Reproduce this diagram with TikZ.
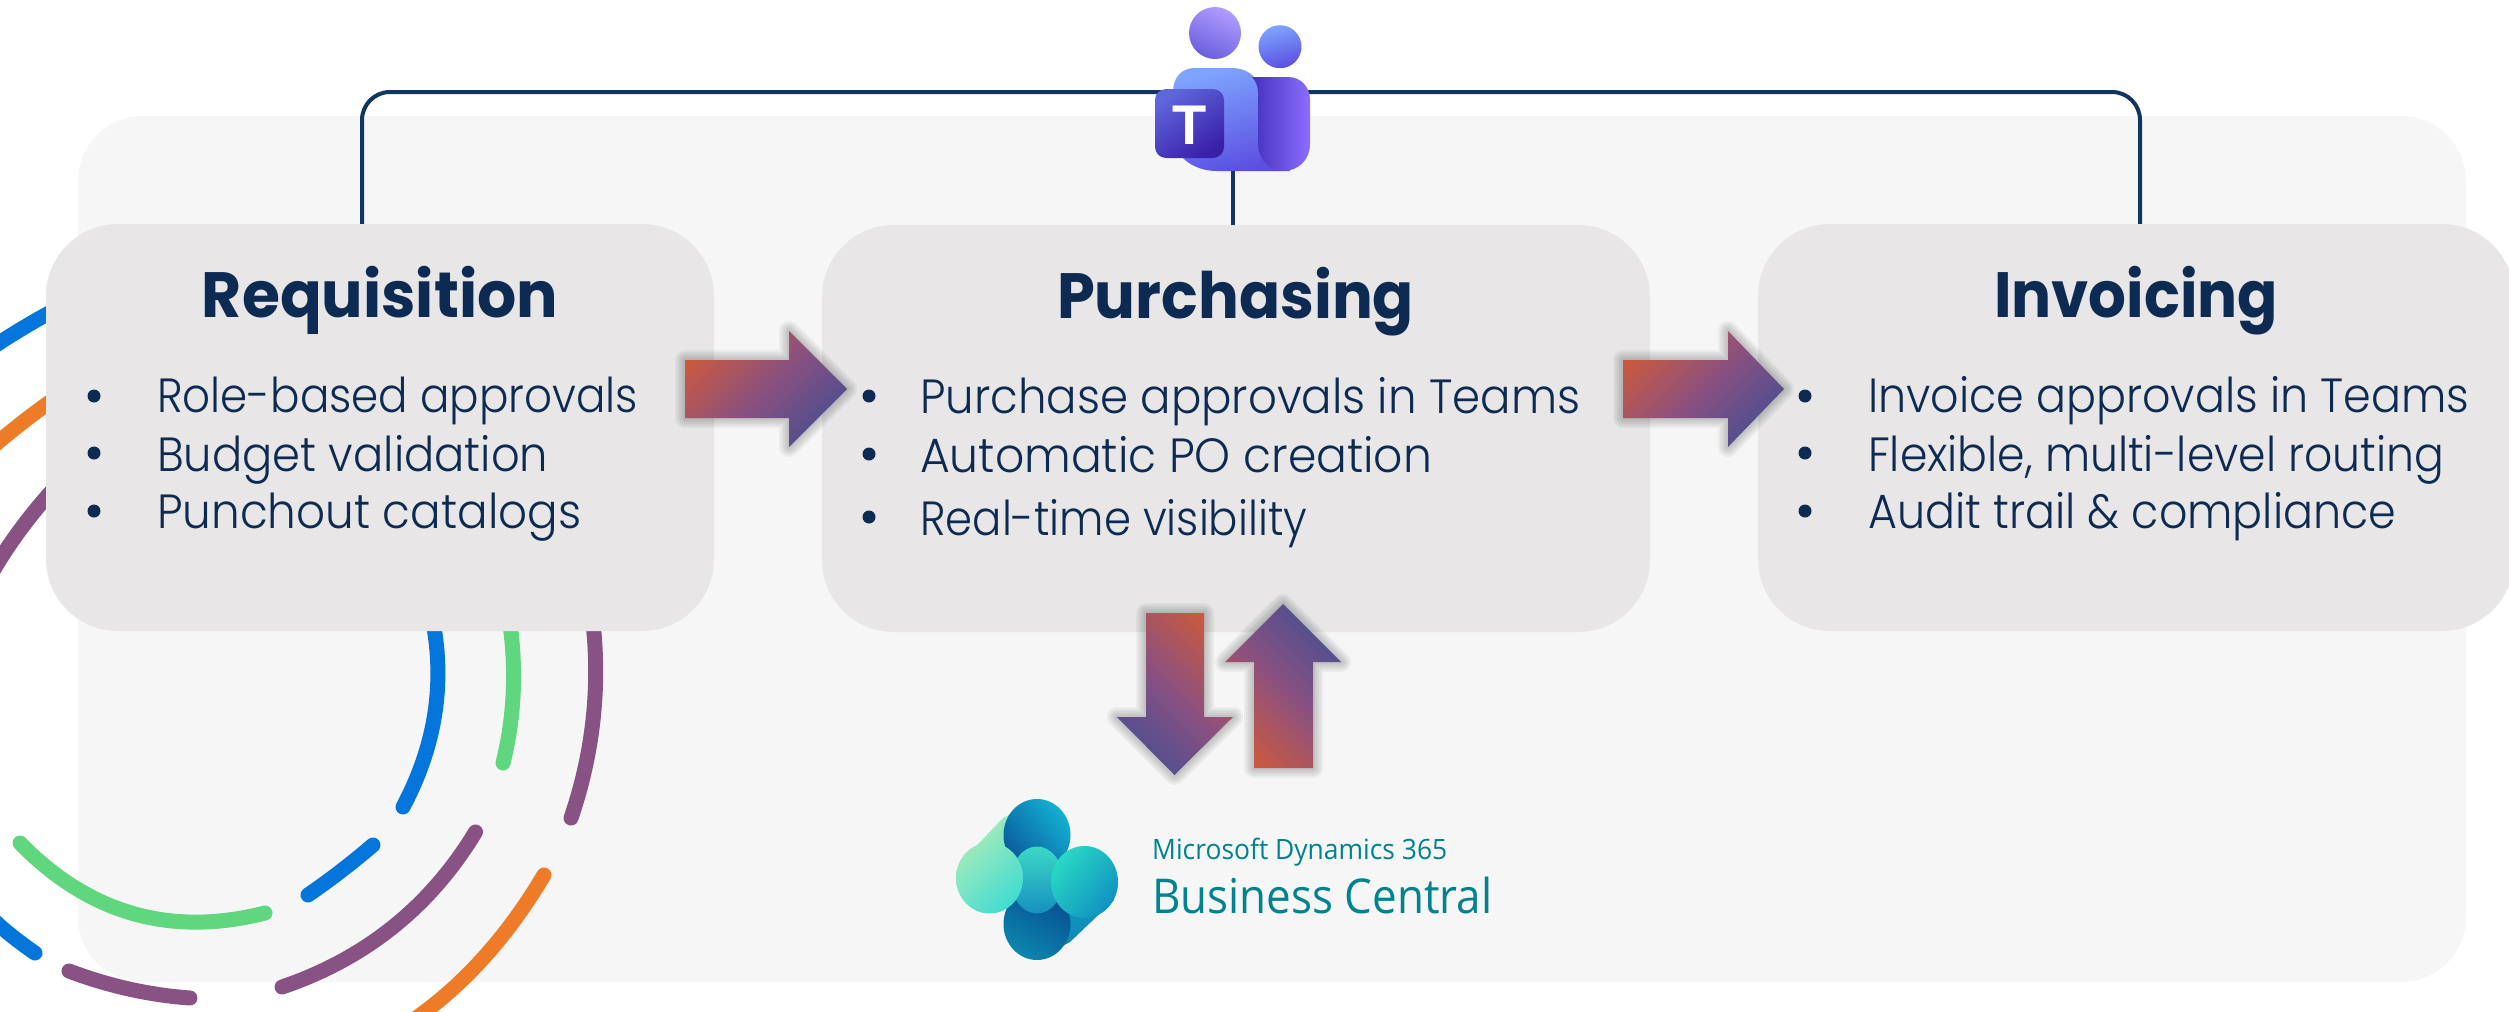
\documentclass[tikz,border=0pt]{standalone}
\usepackage{fontspec}
\usepackage{graphicx}
\usetikzlibrary{calc}
\setmainfont{Poppins}
\newfontfamily\titlefont{Poppins Bold}
\newfontfamily\bodyfont{Poppins Light}
\newfontfamily\msfont{Open Sans}
\newfontfamily\tfont{Liberation Sans Bold}
\definecolor{navy}{HTML}{0D2B52}
\definecolor{conn}{HTML}{0F3560}
\definecolor{cardgray}{HTML}{E8E6E7}
\definecolor{bggray}{HTML}{F6F6F7}
\definecolor{ringblue}{HTML}{0476DB}
\definecolor{ringgreen}{HTML}{60D67E}
\definecolor{ringpurple}{HTML}{895284}
\definecolor{ringorange}{HTML}{EE7B27}
\definecolor{arOrange}{HTML}{CF5A3A}
\definecolor{arPurple}{HTML}{8A5080}
\definecolor{arBlue}{HTML}{434E93}
\definecolor{bcteal}{HTML}{00838F}
\definecolor{tmA}{HTML}{B19CFF}
\definecolor{tmB}{HTML}{6A5FDD}
\definecolor{tmC}{HTML}{7FA4FF}
\definecolor{tmD}{HTML}{5B4FE0}
\definecolor{tmE}{HTML}{4530BE}
\definecolor{tmF}{HTML}{8C6EFF}
\definecolor{tmG}{HTML}{5F66DC}
\definecolor{tmH}{HTML}{3A1FA8}
\definecolor{bcA}{HTML}{B8EDB5}
\definecolor{bcB}{HTML}{3CDCD4}
\definecolor{bcC}{HTML}{2AD8C4}
\definecolor{bcD}{HTML}{0F92C2}
\definecolor{bcE}{HTML}{14B0D2}
\definecolor{bcF}{HTML}{0A5A9C}
\definecolor{bcG}{HTML}{0D86AE}
\definecolor{bcH}{HTML}{064E90}
\definecolor{bcI}{HTML}{3CD8C5}
\definecolor{bcJ}{HTML}{1590C0}
\definecolor{bcK}{HTML}{0E80B0}
\definecolor{bcL}{HTML}{14B8D8}
\definecolor{bcM}{HTML}{5FE3C9}
\pgfdeclareverticalshading{arrowgrad}{100bp}{color(0bp)=(arBlue); color(21bp)=(arBlue); color(50bp)=(arPurple); color(79bp)=(arOrange); color(100bp)=(arOrange)}
\newcommand{\fitw}[2]{\resizebox{#1pt}{\height}{#2}}
\newcommand{\glowarrow}[2]{%
  \foreach \w in {20,16,12,8,4}{\draw[line width=\w pt,black,opacity=.045,line join=round] #1;}
  \shade[shading=arrowgrad,shading angle=#2] #1;}
% ring segment through start, middle, end
\newcommand{\ringarc}[4]{%
  \coordinate (rA) at #2; \coordinate (rM) at #3; \coordinate (rB) at #4;
  \coordinate (rQ) at ($2*(rM)-0.5*(rA)-0.5*(rB)$);
  \draw[ring,#1] (rA) .. controls ($(rA)!0.6667!(rQ)$) and ($(rB)!0.6667!(rQ)$) .. (rB);}
\tikzset{
  cardbox/.style={rectangle,fill=cardgray,rounded corners=72pt,inner sep=0,draw=none},
  ttl/.style={anchor=base,inner sep=0,text=navy,font=\titlefont\fontsize{64}{64}\selectfont},
  itm/.style={anchor=base west,inner sep=0,text=navy,font=\bodyfont\fontsize{48}{48}\selectfont},
  bul/.style={circle,fill=navy,minimum size=13pt,inner sep=0},
  ring/.style={line width=15pt,line cap=round},
  link/.style={conn,line width=4pt},
  mstext/.style={anchor=base west,inner sep=0,text=bcteal}
}
\begin{document}
\begin{tikzpicture}[x=1pt,y=-1pt]
\useasboundingbox (0,0) rectangle (2509,1012);
\fill[white] (0,0) rectangle (2509,1012);
\fill[bggray,rounded corners=65pt] (78,116) rectangle (2466,982);
% rings
\begin{scope}
\clip (0,0) rectangle (2509,1012);
\ringarc{ringblue}{(428,600)}{(436,705)}{(403,807)}
\ringarc{ringblue}{(373,845)}{(341,871)}{(308,895)}
\ringarc{ringgreen}{(506,600)}{(513.5,683)}{(503,763)}
\ringarc{ringpurple}{(590,600)}{(594,710)}{(571,818)}
\ringarc{ringpurple}{(475.5,832)}{(393,927)}{(282,987)}
\ringarc{ringorange}{(544,875)}{(476,966)}{(395,1032)}
\ringarc{ringgreen}{(265,913)}{(133,913.5)}{(20,843)}
\ringarc{ringpurple}{(190,998)}{(129,989)}{(69,971)}
\ringarc{ringblue}{(35,953)}{(0,926)}{(-25,900)}
\ringarc{ringblue}{(70,302)}{(23,328)}{(-20,356)}
\ringarc{ringorange}{(70,388)}{(23,422)}{(-20,458)}
\ringarc{ringpurple}{(70,472)}{(23,526)}{(-15,585)}
\end{scope}
% connector end points
\coordinate (reqtop) at (362,226);
\coordinate (busl) at (362,92);
\coordinate (busr) at (2140,92);
\coordinate (invtop) at (2140,226);
\coordinate (teamsfoot) at (1232.7,165);
\coordinate (purtop) at (1232.7,227);
\draw[link,rounded corners=28pt] (reqtop) -- (busl) -- (busr) -- (invtop);
\draw[link] (teamsfoot) -- (purtop);
% cards
\node[cardbox,minimum width=668pt,minimum height=407pt] (req) at (380,427.5) {};
\node[cardbox,minimum width=828pt,minimum height=407pt] (pur) at (1236,428.5) {};
\node[cardbox,minimum width=756pt,minimum height=407pt] (inv) at (2136,427.5) {};
% titles
\node[ttl] (t1) at (380,317) {\fitw{356}{Requisition}};
\node[ttl] (t2) at (1235.5,318) {\fitw{357}{Purchasing}};
\node[ttl] (t3) at (2136,317) {\fitw{284}{Invoicing}};
% items
\node[bul] (b11) at (94,396) {}; \node[bul] (b12) at (94,453) {}; \node[bul] (b13) at (94,511) {};
\node[bul] (b21) at (869,396) {}; \node[bul] (b22) at (869,454) {}; \node[bul] (b23) at (869,517) {};
\node[bul] (b31) at (1805,396) {}; \node[bul] (b32) at (1805,453) {}; \node[bul] (b33) at (1805,511) {};
\node[itm] (i11) at (157,412) {\fitw{481}{Role-based approvals}};
\node[itm] (i12) at (157,471) {\fitw{391}{Budget validation}};
\node[itm] (i13) at (157,528) {\fitw{424}{Punchout catalogs}};
\node[itm] (i21) at (920,413) {\fitw{660}{Purchase approvals in Teams}};
\node[itm] (i22) at (920,472) {\fitw{512}{Automatic PO creation}};
\node[itm] (i23) at (920,535) {\fitw{387}{Real-time visibility}};
\node[itm] (i31) at (1868,412) {\fitw{601}{Invoice approvals in Teams}};
\node[itm] (i32) at (1868,471) {\fitw{576}{Flexible, multi-level routing}};
\node[itm] (i33) at (1868,528) {\fitw{528}{Audit trail \& compliance}};
% gradient arrows
\glowarrow{(685,360) -- (789,360) -- (789,331) -- (847,389) -- (789,447) -- (789,418) -- (685,418) -- cycle}{45}
\glowarrow{(1623,360) -- (1728,360) -- (1728,331) -- (1784,389) -- (1728,447) -- (1728,418) -- (1623,418) -- cycle}{45}
\glowarrow{(1146,613) -- (1204,613) -- (1204,717) -- (1233,717) -- (1174.5,775) -- (1117,717) -- (1146,717) -- cycle}{-45}
\glowarrow{(1254,768) -- (1313,768) -- (1313,662) -- (1341,662) -- (1283,604) -- (1225,662) -- (1254,662) -- cycle}{135}
% Teams logo
\shade[top color=tmA,bottom color=tmB,shading angle=-25] (1215,33) circle (26pt);
\shade[top color=tmC,bottom color=tmD,shading angle=15] (1280,46.7) circle (21.5pt);
\shade[top color=tmC,bottom color=tmD,shading angle=15] (1195,68) .. controls (1181,68) and (1173,78) .. (1173,92) -- (1173,135)
  .. controls (1173,155) and (1192,171) .. (1217,171) -- (1290,171) -- (1258,85)
  .. controls (1256,75) and (1245,68) .. (1232,68) -- cycle;
\shade[left color=tmE,right color=tmF] (1252,77) -- (1288,77) .. controls (1301,77) and (1310,87) .. (1310,100) -- (1310,144)
  .. controls (1310,160) and (1298,171) .. (1283,171) .. controls (1268,171) and (1258,158) .. (1258,143) -- (1258,92)
  .. controls (1258,87) and (1256,81) .. (1252,77) -- cycle;
\shade[top color=tmG,bottom color=tmH,shading angle=35,rounded corners=11pt] (1155,89) rectangle (1224,158);
\node[inner sep=0,text=white,font=\tfont\fontsize{56}{56}\selectfont,anchor=base] (teamsT) at (1189.5,144) {T};
% Business Central logo
\shade[top color=bcE,bottom color=bcK,shading angle=10] (1114,900) -- (1070,942) -- (1037,960) -- (1037,880) -- (1085,850) -- cycle;
\shade[top color=bcA,middle color=bcM,bottom color=bcB,shading angle=45] (960,863) -- (1003,818) -- (1037,800) -- (1037,880) -- (989,913) -- cycle;
\shade[top color=bcE,bottom color=bcF,shading angle=-50] (1037,835) ellipse (33.5pt and 36pt);
\shade[top color=bcH,bottom color=bcG,shading angle=-30] (1037,924) ellipse (33.5pt and 36pt);
\shade[top color=bcI,bottom color=bcJ] (1037,880) ellipse (26pt and 33.5pt);
\begin{scope}
\clip (989.5,878) ellipse (33.5pt and 35.5pt);
\shade[top color=bcA,middle color=bcM,bottom color=bcB,shading angle=45] (956,800) rectangle (1037,913);
\end{scope}
\shade[top color=bcC,middle color=bcL,bottom color=bcD,shading angle=50] (1084.5,882) ellipse (33.5pt and 36pt);
\node[mstext,font=\msfont\fontsize{28}{28}\selectfont] (ms1) at (1152,859) {\fitw{295}{Microsoft Dynamics 365}};
\node[mstext,font=\msfont\fontsize{48}{48}\selectfont] (ms2) at (1152,913) {\fitw{340}{Business Central}};
\end{tikzpicture}
\end{document}
